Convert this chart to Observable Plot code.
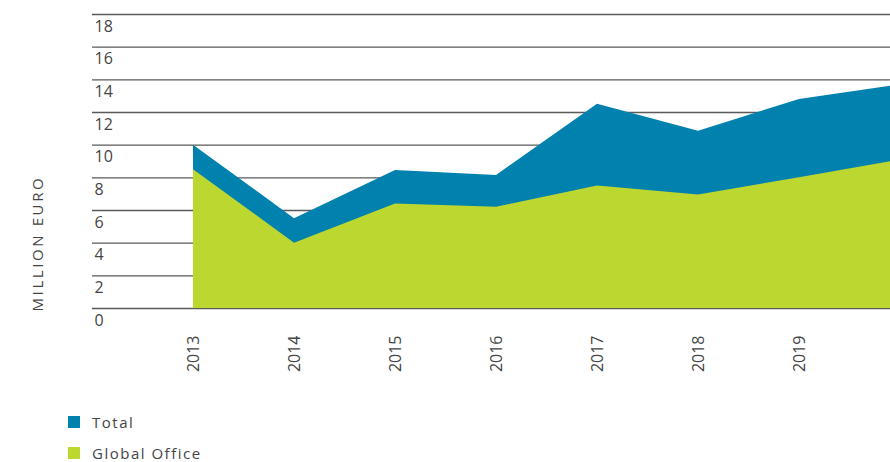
<!DOCTYPE html>
<html>
<head>
<meta charset="utf-8">
<script src="https://cdn.jsdelivr.net/npm/d3@7"></script>
<script src="https://cdn.jsdelivr.net/npm/@observablehq/plot@0.6"></script>
<style>
  body { margin: 0; background: #fff; font-family: "Open Sans", sans-serif; }
  #wrap { position: relative; width: 890px; height: 462px; }
  #chart svg { overflow: hidden; display: block; }
  .legend { position: absolute; left: 68px; top: 406px; color: #444; font-size: 15px; letter-spacing: 1.5px; line-height: 14px; }
  .item { display: flex; align-items: center; height: 31px; }
  .sw { width: 12px; height: 12px; margin-right: 12px; }
  .ytitle text { letter-spacing: 2.6px; }
</style>
</head>
<body>
<div id="wrap">
  <div id="chart"></div>
  <div class="legend" id="legend"></div>
</div>
<script>
const years = [2013, 2014, 2015, 2016, 2017, 2018, 2019, 2020];
const total = [10.0, 5.5, 8.45, 8.15, 12.5, 10.85, 12.8, 13.7];
const globalOffice = [8.5, 4.0, 6.4, 6.2, 7.5, 6.95, 8.0, 9.1];
const xTicks = [2013, 2014, 2015, 2016, 2017, 2018, 2019];
const yTicks = [0, 2, 4, 6, 8, 10, 12, 14, 16, 18];
const seriesNames = ["Total", "Global Office"];
const colors = ["#0081AE", "#BDD731"];
const yTitle = "MILLION EURO";

const totalData = years.map((y, i) => ({year: y, value: total[i]}));
const goData = years.map((y, i) => ({year: y, value: globalOffice[i]}));

const plot = Plot.plot({
  width: 890,
  height: 400,
  marginLeft: 92,
  marginRight: 0,
  marginTop: 14,
  marginBottom: 92,
  style: {fontFamily: "Open Sans, sans-serif", fontSize: "16px", color: "#444", background: "#fff"},
  x: {domain: [2013, 2020], range: [193, 900], axis: null},
  y: {domain: [0, 18], axis: null},
  marks: [
    Plot.ruleY(yTicks, {stroke: "#5a5a5a", strokeWidth: 1.3}),
    Plot.areaY(totalData, {x: "year", y: "value", fill: colors[0], clip: true}),
    Plot.areaY(goData, {x: "year", y: "value", fill: colors[1], clip: true}),
    Plot.text(yTicks, {y: d => d, text: d => String(d), frameAnchor: "left", textAnchor: "start", dx: 2, dy: 12, fill: "#444", fontSize: 16}),
    Plot.axisX(xTicks, {tickSize: 0, tickPadding: 27, tickRotate: -90, tickFormat: d => String(d), fontSize: 16, fill: "#444", label: null}),
    Plot.text([yTitle], {frameAnchor: "left", dx: -54, dy: 150, rotate: -90, fill: "#444", fontSize: 15, className: "ytitle"})
  ]
});
document.getElementById("chart").appendChild(plot);

const legend = document.getElementById("legend");
seriesNames.forEach((name, i) => {
  const item = document.createElement("div");
  item.className = "item";
  item.innerHTML = `<span class="sw" style="background:${colors[i]}"></span><span>${name}</span>`;
  legend.appendChild(item);
});
</script>
</body>
</html>
